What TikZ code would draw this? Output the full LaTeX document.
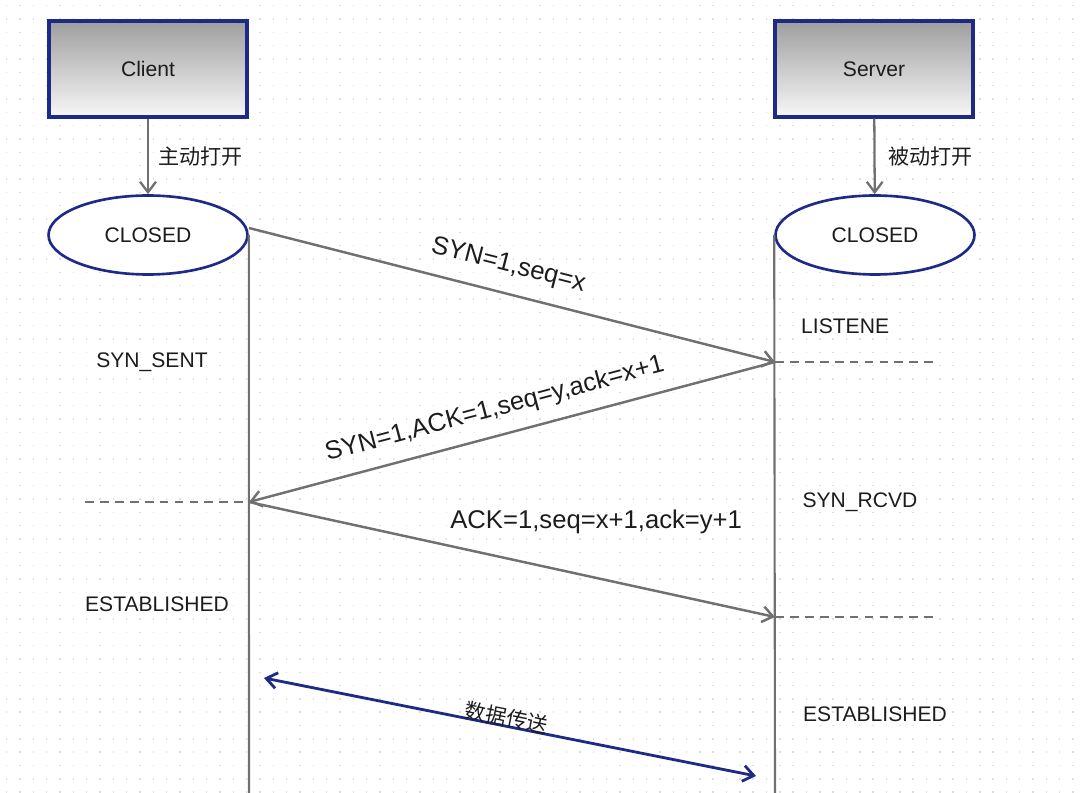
\documentclass[tikz,border=0pt]{standalone}
\usepackage{fontspec}
\setmainfont{Liberation Sans}
\newfontfamily\cjk{Noto Sans CJK SC}
\usepackage{tikz}
\usetikzlibrary{arrows.meta,positioning,calc,shapes}
\usepackage{xcolor}
\definecolor{boxblue}{RGB}{30,42,135}
\definecolor{linegray}{RGB}{112,112,112}
\definecolor{dotgray}{RGB}{222,222,222}
\definecolor{txt}{RGB}{28,28,28}
\newcommand{\tagsize}{\fontsize{12}{14}\selectfont}
\newcommand{\msgsize}{\fontsize{14.6}{17}\selectfont}

\tikzset{
  host/.style={draw=boxblue, line width=1.8pt, top color=black!38, bottom color=black!3,
    minimum width=3.96cm, minimum height=1.92cm, font=\tagsize, text=txt},
  state/.style={ellipse, draw=boxblue, line width=1.5pt, fill=white,
    minimum width=3.98cm, minimum height=1.58cm, font=\tagsize, text=txt},
  open/.style={-{Straight Barb[length=6pt,width=9pt]}, linegray, line width=1.3pt},
  msg/.style={-{Straight Barb[length=6pt,width=9pt]}, linegray, line width=1.4pt},
  life/.style={linegray, line width=1.2pt},
  wait/.style={linegray, line width=1pt, dash pattern=on 5pt off 3.5pt},
  data/.style={{Straight Barb[length=6pt,width=9pt]}-{Straight Barb[length=6pt,width=9pt]}, boxblue, line width=1.6pt},
  tag/.style={font=\tagsize, text=txt},
  msgtag/.style={font=\msgsize, text=txt},
}

\begin{document}
\begin{tikzpicture}[x=0.02cm, y=-0.02cm]
  \useasboundingbox (0,0) rectangle (1085,793);

  % 背景の点
  \foreach \i in {0,...,81} {
    \foreach \j in {0,...,59} {
      \fill[dotgray] (6+13.33*\i,5+13.33*\j) rectangle ++(1.4,1.4);
    }
  }

  % ホスト
  \node[host] (client) at (148,69) {Client};
  \node[host] (server) at (874,69) {Server};

  \node[state] (cclosed) at (148,235) {CLOSED};
  \node[state] (sclosed) at (875,235) {CLOSED};

  \draw[open] (client) -- node[tag, right=2pt] {\cjk 主动打开} (cclosed);
  \draw[open] (server) -- node[tag, right=4pt] {\cjk 被动打开} (sclosed);

  % 生存線
  \coordinate (cbot) at (249,793);
  \coordinate (sbot) at (775,793);
  \draw[life] (cclosed.east) -- (cbot);
  \draw[life] (sclosed.west) -- (sbot);

  % 三回握手
  \coordinate (c1) at (249,228);
  \coordinate (s1) at (775,362);
  \coordinate (c2) at (249,502);
  \coordinate (s2) at (775,617);

  \draw[msg] (c1) -- node[msgtag, sloped, pos=0.48, above=5pt] {SYN=1,seq=x} (s1);
  \draw[msg] (s1) -- node[msgtag, sloped, pos=0.52, above=4pt] {SYN=1,ACK=1,seq=y,ack=x+1} (c2);
  \draw[msg] (c2) -- node[msgtag, pos=0.66, above=21pt] {ACK=1,seq=x+1,ack=y+1} (s2);

  \coordinate (s1e) at (935,362);
  \coordinate (c2w) at (85,502);
  \coordinate (s2e) at (935,617);
  \draw[wait] (s1) -- (s1e);
  \draw[wait] (c2w) -- (c2);
  \draw[wait] (s2) -- (s2e);

  % 状態
  \node[tag] (synsent) at (152,362) {SYN\_SENT};
  \node[tag] (cest) at (157,604) {ESTABLISHED};
  \node[tag, anchor=west] (listen) at (795,326) {LISTENE};
  \node[tag] (synrcvd) at (860,502) {SYN\_RCVD};
  \node[tag] (sest) at (875,714) {ESTABLISHED};

  % データ転送
  \coordinate (d1) at (264,678);
  \coordinate (d2) at (756,776);
  \draw[data] (d1) -- node[tag, sloped, pos=0.49, above=-2.5pt, inner sep=1pt] {\cjk 数据传送} (d2);
\end{tikzpicture}
\end{document}
